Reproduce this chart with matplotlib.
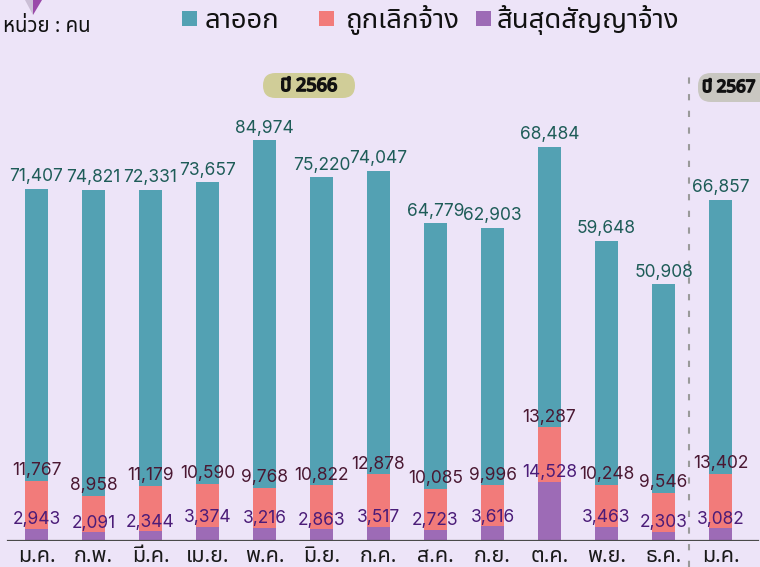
import matplotlib
matplotlib.use("Agg")
import matplotlib.pyplot as plt
import matplotlib.patheffects as pe
import numpy as np
from matplotlib import font_manager
from matplotlib.ft2font import FT2Font
from matplotlib.patches import FancyBboxPatch, Rectangle, Polygon
from matplotlib.transforms import Affine2D

# Data (persons)
months = ['ม.ค.', 'ก.พ.', 'มี.ค.', 'เม.ย.', 'พ.ค.', 'มิ.ย.', 'ก.ค.',
          'ส.ค.', 'ก.ย.', 'ต.ค.', 'พ.ย.', 'ธ.ค.', 'ม.ค.']
resign = [71407, 74821, 72331, 73657, 84974, 75220, 74047,
          64779, 62903, 68484, 59648, 50908, 66857]
laid_off = [11767, 8958, 11179, 10590, 9768, 10822, 12878,
            10085, 9996, 13287, 10248, 9546, 13402]
contract_end = [2943, 2091, 2344, 3374, 3216, 2863, 3517,
                2723, 3616, 14528, 3463, 2303, 3082]
series_names = ['ลาออก', 'ถูกเลิกจ้าง', 'สิ้นสุดสัญญาจ้าง']


# pick an installed font that has Thai glyphs
def find_thai_font():
    prefer = ['Noto Sans Thai', 'Noto Sans Thai Looped', 'Noto Sans Thai UI',
              'Prompt', 'Kanit', 'Sarabun', 'Loma', 'Garuda', 'Norasi',
              'Tlwg Typo', 'Laksaman', 'Waree', 'Umpush']
    found = {}
    for f in font_manager.fontManager.ttflist:
        try:
            if 0x0E25 in FT2Font(f.fname).get_charmap():
                found.setdefault(f.name, f.fname)
        except Exception:
            pass
    for p in prefer:
        if p in found:
            return p
    return next(iter(found), 'DejaVu Sans')


thai = find_thai_font()
TH = [thai, 'DejaVu Sans']
NUM = ['Inter', 'DejaVu Sans']

bg = '#ede4f8'
c_resign = '#53a1b3'
c_laid = '#f27b7a'
c_contract = '#9d6bb6'

fig = plt.figure(figsize=(7.6, 5.67), dpi=100, facecolor=bg)
ax = fig.add_axes([0, 26 / 567, 1, 541 / 567])
ax.set_facecolor(bg)
for s in ax.spines.values():
    s.set_visible(False)
ax.set_xticks([])
ax.set_yticks([])

# pixel transform (x from left, y from top) for decorations
T = Affine2D().scale(1 / 760, -1 / 567).translate(0, 1) + fig.transFigure

x = np.arange(len(months))
w = 0.40
b1 = np.array(contract_end)
b2 = b1 + np.array(laid_off)
ax.bar(x, contract_end, w, color=c_contract, zorder=2)
ax.bar(x, laid_off, w, bottom=b1, color=c_laid, zorder=2)
ax.bar(x, resign, w, bottom=b2, color=c_resign, zorder=2)

ax.set_xlim(-36.5 / 57, (760 - 36.5) / 57)
ax.set_ylim(0, 541 / 0.004093)

# value labels
for i in range(len(months)):
    ax.annotate(f'{resign[i]:,}', (x[i], b2[i] + resign[i]), xytext=(0, 2.5),
                textcoords='offset points', ha='center', va='bottom',
                fontsize=12.5, color='#1e5c58', family=NUM, zorder=4)
    ax.annotate(f'{laid_off[i]:,}', (x[i], b2[i]), xytext=(0, 1),
                textcoords='offset points', ha='center', va='bottom',
                fontsize=12.5, color='#4a1832', family=NUM, zorder=4)
    ax.annotate(f'{contract_end[i]:,}', (x[i], b1[i]), xytext=(0, 0.5),
                textcoords='offset points', ha='center', va='bottom',
                fontsize=12.5, color='#4b1c78', family=NUM, zorder=4)
    ax.text(x[i], -21 / 541, months[i], transform=ax.get_xaxis_transform(),
            ha='center', va='baseline', fontsize=15.5, color='#1a1a1a', family=TH)

# baseline
ax.axhline(0, xmin=8 / 760, xmax=758 / 760, color='#4a4a4a', lw=1.6, zorder=3)

# year separator
sep = 11.45
ax.plot([sep, sep], [-26 / 541, (541 - 73) / 541], transform=ax.get_xaxis_transform(),
        color='#9a9a9a', lw=1.5, dashes=(3, 5), clip_on=False, zorder=1)

# year badges
bold = [pe.withStroke(linewidth=1.2, foreground='#111111')]
fig.patches.append(FancyBboxPatch((263, 73), 92, 25, boxstyle='round,pad=0,rounding_size=12.5',
                                  transform=T, fc='#d0cd98', ec='none'))
fig.text(309, 86, 'ปี 2566', transform=T, ha='center', va='center', fontsize=13,
         fontweight='bold', family=TH, color='#111111', path_effects=bold)
fig.patches.append(FancyBboxPatch((698, 73), 80, 29, boxstyle='round,pad=0,rounding_size=13',
                                  transform=T, fc='#c9c7c1', ec='none'))
fig.text(702, 88, 'ปี 2567', transform=T, ha='left', va='center', fontsize=12.2,
         fontweight='bold', family=TH, color='#111111', path_effects=bold)

# legend
legend_x = [(182, 205), (319, 345), (476, 497)]
for (sx, tx), name, col in zip(legend_x, series_names, [c_resign, c_laid, c_contract]):
    fig.patches.append(Rectangle((sx, 11), 15, 15, transform=T, fc=col, ec='none'))
    fig.text(tx, 28, name, transform=T, ha='left', va='baseline', fontsize=19.8,
             family=TH, color='#111111')

# unit label and marker
fig.text(3, 32, 'หน่วย : คน', transform=T, ha='left', va='baseline', fontsize=14.7,
         family=TH, color='#111111')
fig.patches.append(Polygon([(25, 0), (33, 0), (33, 15)], closed=True, transform=T,
                           fc='#cbbfd6', ec='none'))
fig.patches.append(Polygon([(33, 0), (42, 0), (33, 15)], closed=True, transform=T,
                           fc='#9a4aa9', ec='none'))

fig.savefig('out.png', dpi=100, facecolor=bg)
